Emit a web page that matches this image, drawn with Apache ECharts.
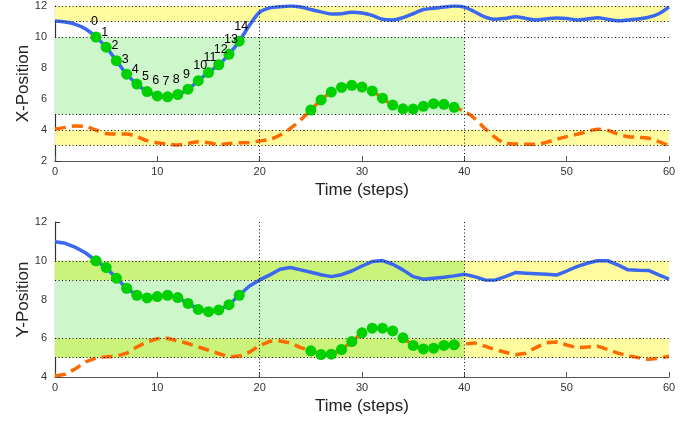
<!DOCTYPE html>
<html><head><meta charset="utf-8">
<script src="https://cdn.jsdelivr.net/npm/echarts@6/dist/echarts.min.js"></script>
<style>html,body{margin:0;padding:0;background:#fff}#c{width:687px;height:426px}</style>
</head><body><div id="c"></div>
<script>
// ---- data ----
var steps = [];
for (var i = 0; i <= 60; i++) steps.push(i);
var xPosBlue = [11.03,10.97,10.82,10.52,10.0,9.34,8.47,7.6,6.96,6.48,6.2,6.14,6.29,6.63,7.18,7.71,8.21,8.88,9.73,10.75,11.6,11.88,11.95,12.0,11.93,11.77,11.62,11.48,11.5,11.6,11.55,11.4,11.14,11.1,11.25,11.5,11.77,11.85,11.93,12.0,11.93,11.63,11.3,11.14,11.2,11.3,11.2,11.1,11.16,11.23,11.2,11.1,11.16,11.25,11.14,11.05,11.1,11.16,11.27,11.5,11.95];
var xPosOrange = [4.06,4.17,4.26,4.22,4.0,3.78,3.74,3.74,3.57,3.31,3.18,3.1,3.03,3.13,3.25,3.18,3.06,3.13,3.17,3.2,3.29,3.4,3.68,4.1,4.65,5.29,5.94,6.45,6.75,6.88,6.77,6.52,6.05,5.61,5.37,5.35,5.53,5.7,5.66,5.46,5.2,4.75,4.1,3.53,3.14,3.1,3.08,3.08,3.2,3.4,3.57,3.72,3.9,4.05,3.98,3.74,3.57,3.53,3.47,3.25,2.99];
var yPosBlue = [10.98,10.9,10.69,10.4,10.0,9.65,9.1,8.58,8.22,8.08,8.15,8.22,8.1,7.8,7.49,7.37,7.46,7.73,8.22,8.7,9.01,9.27,9.56,9.65,9.53,9.41,9.28,9.18,9.28,9.47,9.73,9.96,10.01,9.82,9.53,9.18,9.05,9.1,9.15,9.22,9.3,9.18,9.01,9.0,9.18,9.39,9.36,9.33,9.3,9.26,9.47,9.7,9.87,10.0,10.0,9.79,9.53,9.51,9.5,9.27,9.05];
var yPosOrange = [4.05,4.14,4.43,4.78,4.98,5.04,5.07,5.23,5.55,5.81,5.98,6.0,5.86,5.73,5.55,5.38,5.21,5.04,5.08,5.28,5.63,5.84,5.86,5.76,5.52,5.35,5.16,5.18,5.42,5.83,6.28,6.52,6.52,6.38,6.02,5.63,5.45,5.49,5.63,5.66,5.7,5.76,5.59,5.42,5.28,5.15,5.23,5.52,5.76,5.81,5.65,5.52,5.55,5.59,5.42,5.23,5.09,5.0,4.91,4.96,5.07];
var blueDotRange = [4, 18];     // highlighted steps on blue curves
var orangeDotRange = [25, 39];  // highlighted steps on orange curves
var xTicks = [0, 10, 20, 30, 40, 50, 60];
var topYTicks = [2, 4, 6, 8, 10, 12];
var botYTicks = [4, 6, 8, 10, 12];
// bands: [x0, x1, y0, y1]
var topYellowBands = [[0, 60, 11, 12], [0, 60, 3, 4]];
var topGreenBands = [[0, 40, 5, 10]];
var botYellowBands = [[40, 60, 9, 10], [40, 60, 5, 6]];
var botGreenBands = [[0, 40, 6, 9]];
var botOverlapBands = [[0, 40, 9, 10], [0, 40, 5, 6]];
var topHLines = [12, 11, 10, 5, 4, 3];
var botHLines = [10, 9, 6, 5];
var vLines = [20, 40];

// ---- helpers ----
function pairs(arr) { return steps.map(function (s, i) { return [s, arr[i]]; }); }
function dots(arr, r) { var out = []; for (var i = r[0]; i <= r[1]; i++) out.push([steps[i], arr[i]]); return out; }
var YEL = '#fefb9e', GRN = '#cdf6cb', OVL = '#c9f37a';
function areas(list, color) {
  return list.map(function (b) { return [{ xAxis: b[0], yAxis: b[2], itemStyle: { color: color } }, { xAxis: b[1], yAxis: b[3] }]; });
}
function lines(h) {
  return h.map(function (y) { return [{ xAxis: 0, yAxis: y }, { xAxis: 60, yAxis: y }]; });
}
function vlines(y0, y1) {
  return vLines.map(function (x) { return [{ xAxis: x, yAxis: y0 }, { xAxis: x, yAxis: y1 }]; });
}
var FONT = 'Liberation Sans, Arial, sans-serif';
var BLUE = '#3b68f0', ORANGE = '#ff6a00', DOT = '#00d000';

function xAxisCfg(idx) {
  return {
    type: 'value', gridIndex: idx, min: 0, max: 60, interval: 10,
    name: 'Time (steps)', nameLocation: 'middle', nameGap: 21, nameMoveOverlap: false,
    nameTextStyle: { fontSize: 17, color: '#222', fontFamily: FONT },
    axisLine: { show: true, lineStyle: { color: '#555', width: 1.2 } },
    axisTick: { show: true, inside: true, length: 5, lineStyle: { color: '#555' } },
    axisLabel: { fontSize: 11, color: '#333', margin: 5, fontFamily: FONT },
    splitLine: { show: false }
  };
}
function yAxisCfg(idx, min, name) {
  return {
    type: 'value', gridIndex: idx, min: min, max: 12, interval: 2,
    name: name, nameLocation: 'middle', nameGap: 23, nameRotate: 90, nameMoveOverlap: false,
    nameTextStyle: { fontSize: 17, color: '#222', fontFamily: FONT },
    axisLine: { show: true, onZero: false, lineStyle: { color: '#333', width: 1.2 } },
    axisTick: { show: true, inside: true, length: 5, lineStyle: { color: '#333' } },
    axisLabel: { fontSize: 11, color: '#333', margin: 8, fontFamily: FONT },
    splitLine: { show: false }
  };
}
var dotLine = { color: '#111', width: 1, type: [1, 2.5] };
var dotStyle = { color: DOT, opacity: 1, borderWidth: 0 };

var chart = echarts.init(document.getElementById('c'), null, { renderer: 'canvas' });
chart.setOption({
  animation: false,
  backgroundColor: '#fff',
  grid: [
    { left: 55, right: 18, top: 6, height: 155 },
    { left: 55, right: 18, top: 222, height: 155 }
  ],
  xAxis: [xAxisCfg(0), xAxisCfg(1)],
  yAxis: [yAxisCfg(0, 2, 'X-Position'), yAxisCfg(1, 4, 'Y-Position')],
  series: [
    { type: 'line', xAxisIndex: 0, yAxisIndex: 0, data: [], silent: true,
      markArea: { silent: true, data: areas(topYellowBands, YEL).concat(areas(topGreenBands, GRN)) },
      markLine: { silent: true, symbol: 'none', label: { show: false }, lineStyle: dotLine,
        data: lines(topHLines).concat(vlines(2, 12)) } },
    { type: 'line', xAxisIndex: 1, yAxisIndex: 1, data: [], silent: true,
      markArea: { silent: true, data: areas(botYellowBands, YEL).concat(areas(botGreenBands, GRN)).concat(areas(botOverlapBands, OVL)) },
      markLine: { silent: true, symbol: 'none', label: { show: false }, lineStyle: dotLine,
        data: lines(botHLines).concat(vlines(4, 12)) } },
    { type: 'line', xAxisIndex: 0, yAxisIndex: 0, data: pairs(xPosBlue), smooth: 0.3, showSymbol: false,
      lineStyle: { color: BLUE, width: 3.5 }, z: 3 },
    { type: 'line', xAxisIndex: 0, yAxisIndex: 0, data: pairs(xPosOrange), smooth: 0.3, showSymbol: false,
      lineStyle: { color: ORANGE, width: 3.5, type: [11, 6] }, z: 3 },
    { type: 'scatter', xAxisIndex: 0, yAxisIndex: 0, data: dots(xPosBlue, blueDotRange), symbolSize: 11,
      itemStyle: dotStyle, z: 5,
      label: { show: true, position: 'top', distance: 3, align: 'left', offset: [-5, 0], fontSize: 12.5, color: '#000', fontFamily: FONT,
        formatter: function (p) { return String(p.dataIndex); } } },
    { type: 'scatter', xAxisIndex: 0, yAxisIndex: 0, data: dots(xPosOrange, orangeDotRange), symbolSize: 11,
      itemStyle: dotStyle, z: 5 },
    { type: 'line', xAxisIndex: 1, yAxisIndex: 1, data: pairs(yPosBlue), showSymbol: false,
      lineStyle: { color: BLUE, width: 3.5 }, z: 3 },
    { type: 'line', xAxisIndex: 1, yAxisIndex: 1, data: pairs(yPosOrange), showSymbol: false,
      lineStyle: { color: ORANGE, width: 3.5, type: [11, 6] }, z: 3 },
    { type: 'scatter', xAxisIndex: 1, yAxisIndex: 1, data: dots(yPosBlue, blueDotRange), symbolSize: 11,
      itemStyle: dotStyle, z: 5 },
    { type: 'scatter', xAxisIndex: 1, yAxisIndex: 1, data: dots(yPosOrange, orangeDotRange), symbolSize: 11,
      itemStyle: dotStyle, z: 5 }
  ]
});
</script></body></html>
